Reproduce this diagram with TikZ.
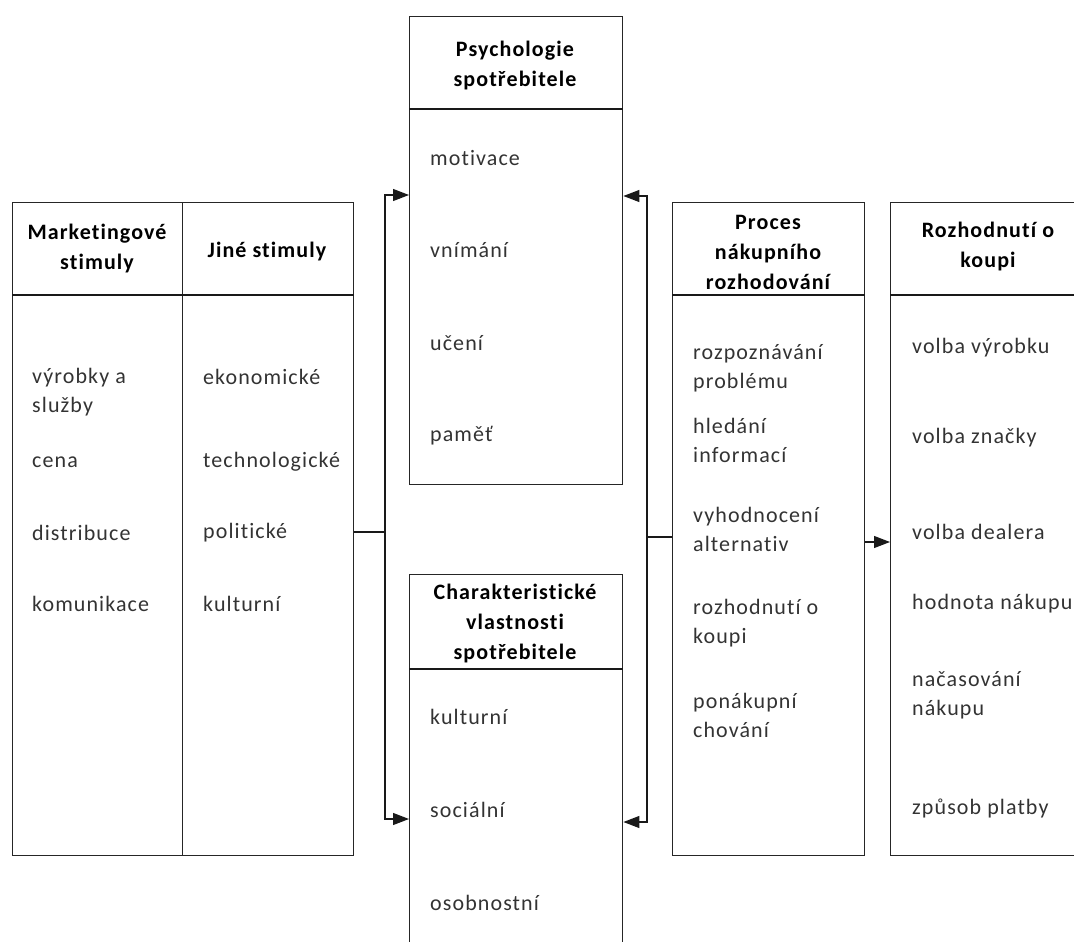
\documentclass[tikz,border=0pt]{standalone}
\usepackage{fontspec}
\setmainfont{Carlito}[LetterSpace=5, Ligatures=NoCommon]
\usetikzlibrary{arrows.meta,calc}
\begin{document}
\begin{tikzpicture}[x=1pt,y=-1pt,
  box/.style={draw=black!85, line width=1.4pt, inner sep=0pt, anchor=north west},
  hd/.style={font=\fontsize{22}{30}\selectfont\bfseries, align=center, anchor=center, text=black},
  it/.style={font=\fontsize{22}{29}\selectfont, align=left, anchor=west, text=black!80, inner sep=0pt},
  ln/.style={line width=1.2pt, draw=black!90},
  arr/.style={ln, -{Triangle[length=16pt,width=12pt]}}]
\useasboundingbox (0,0) rectangle (1074,942);
\clip (0,0) rectangle (1074,942);
% boxes
\node[box, minimum width=170pt, minimum height=653pt] (mk) at (12,202) {};
\node[box, minimum width=171pt, minimum height=653pt] (js) at (182,202) {};
\node[box, minimum width=213pt, minimum height=468pt] (ps) at (409,16) {};
\node[box, minimum width=213pt, minimum height=420pt] (ch) at (409,574) {};
\node[box, minimum width=192pt, minimum height=653pt] (pr) at (672,202) {};
\node[box, minimum width=220pt, minimum height=653pt] (rz) at (890,202) {};
% header separators
\draw[ln, line width=1.4pt] ($(mk.north west)+(0,93)$) -- ($(js.north east)+(0,93)$);
\draw[ln, line width=1.4pt] ($(ps.north west)+(0,93)$) -- ($(ps.north east)+(0,93)$);
\draw[ln, line width=1.4pt] ($(ch.north west)+(0,95)$) -- ($(ch.north east)+(0,95)$);
\draw[ln, line width=1.4pt] ($(pr.north west)+(0,93)$) -- ($(pr.north east)+(0,93)$);
\draw[ln, line width=1.4pt] ($(rz.north west)+(0,93)$) -- ($(rz.north east)+(0,93)$);
% headers
\node[hd] (mkh) at (97,249) {Marketingové\\stimuly};
\node[hd] (jsh) at (267,252) {Jiné stimuly};
\node[hd] (psh) at (515,66) {Psychologie\\spotřebitele};
\node[hd] (chh) at (515,624) {Charakteristické\\vlastnosti\\spotřebitele};
\node[hd] (prh) at (768,252) {Proces\\nákupního\\rozhodování};
\node[hd] (rzh) at (988,247) {Rozhodnutí o\\koupi};
% items left
\node[it] (m1) at (32,392) {výrobky a\\služby};
\node[it] (m2) at (32,462) {cena};
\node[it] (m3) at (32,533) {distribuce};
\node[it] (m4) at (32,604) {komunikace};
\node[it] (j1) at (203,377) {ekonomické};
\node[it] (j2) at (203,462) {technologické};
\node[it] (j3) at (203,533) {politické};
\node[it] (j4) at (203,604) {kulturní};
% items psychologie
\node[it] (p1) at (430,158) {motivace};
\node[it] (p2) at (430,250) {vnímání};
\node[it] (p3) at (430,343) {učení};
\node[it] (p4) at (430,436) {paměť};
% items charakteristicke
\node[it] (c1) at (430,717) {kulturní};
\node[it] (c2) at (430,810) {sociální};
\node[it] (c3) at (430,903) {osobnostní};
% items proces
\node[it] (r1) at (693,368) {rozpoznávání\\problému};
\node[it] (r2) at (693,440) {hledání\\informací};
\node[it] (r3) at (693,529) {vyhodnocení\\alternativ};
\node[it] (r4) at (693,623) {rozhodnutí o\\koupi};
\node[it] (r5) at (693,715) {ponákupní\\chování};
% items rozhodnuti
\node[it] (z1) at (912,348) {volba výrobku};
\node[it] (z2) at (912,438) {volba značky};
\node[it] (z3) at (912,532) {volba dealera};
\node[it] (z4) at (912,604) {hodnota nákupu};
\node[it] (z5) at (912,695) {načasování\\nákupu};
\node[it] (z6) at (912,808) {způsob platby};
% connectors left
\coordinate (lj) at (385,532);
\coordinate (lt) at (385,195);
\coordinate (lb) at (385,819);
\draw[ln] (js.east |- lj) -- (lj);
\draw[arr] (lj) -- (lt) -- (ps.west |- lt);
\draw[arr] (lj) -- (lb) -- (ch.west |- lb);
% connectors right
\coordinate (rj) at (647,537);
\coordinate (rt) at (647,196);
\coordinate (rb) at (647,822);
\draw[ln] (pr.west |- rj) -- (rj);
\draw[arr] (rj) -- (rt) -- (ps.east |- rt);
\draw[arr] (rj) -- (rb) -- (ch.east |- rb);
% proces -> rozhodnuti
\coordinate (pa) at (864,542);
\draw[arr] (pr.east |- pa) -- (rz.west |- pa);
\end{tikzpicture}
\end{document}
